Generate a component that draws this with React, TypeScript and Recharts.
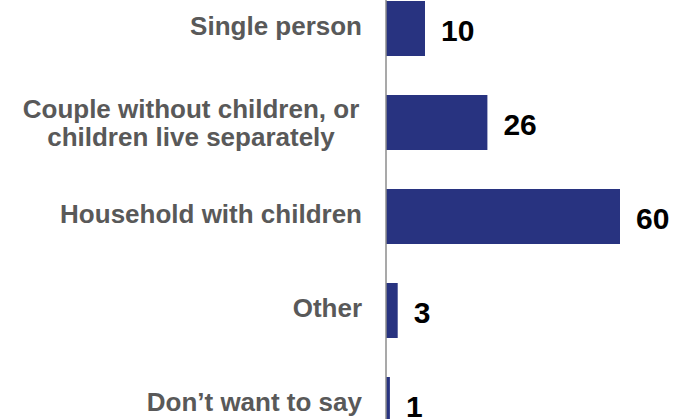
import { BarChart, Bar, XAxis, YAxis, LabelList } from "recharts";

const categories = [
  "Single person",
  "Couple without children, or\nchildren live separately",
  "Household with children",
  "Other",
  "Don\u2019t want to say",
];
const shares = [10, 26, 60, 3, 1];

const data = categories.map((name, i) => ({ name, value: shares[i] }));

const FONT = "'Liberation Sans', Arial, sans-serif";

function CategoryTick({ x, y, payload }: any) {
  const lines = String(payload.value).split("\n");
  if (lines.length === 1) {
    return (
      <text x={x} y={y} dy={7} textAnchor="end" fill="#595959"
        fontFamily={FONT} fontSize={26} fontWeight="bold">
        {lines[0]}
      </text>
    );
  }
  const lh = 28;
  const start = -((lines.length - 1) * lh) / 2;
  return (
    <text x={x - 171} y={y} textAnchor="middle" fill="#595959"
      fontFamily={FONT} fontSize={26} fontWeight="bold">
      {lines.map((l, i) => (
        <tspan key={i} x={x - 171} dy={i === 0 ? start + 9.5 : lh}>{l}</tspan>
      ))}
    </text>
  );
}

export default function App() {
  return (
    <div style={{ position: "absolute", top: -19, left: 0 }}>
      <BarChart width={674} height={470} data={data} layout="vertical"
        margin={{ top: 0, right: 54, bottom: 0, left: 0 }}>
        <XAxis type="number" domain={[0, 60]} hide />
        <YAxis type="category" dataKey="name" width={386} tickSize={0} tickMargin={24}
          tick={<CategoryTick />} axisLine={{ stroke: "#8c8c8c", strokeWidth: 1.5 }}
          tickLine={false} interval={0} />
        <Bar dataKey="value" fill="#283380" barSize={55} isAnimationActive={false}>
          <LabelList dataKey="value" position="right" offset={16} fill="#000"
            fontFamily={FONT} fontSize={30} fontWeight="bold" dy={2} />
        </Bar>
      </BarChart>
    </div>
  );
}
